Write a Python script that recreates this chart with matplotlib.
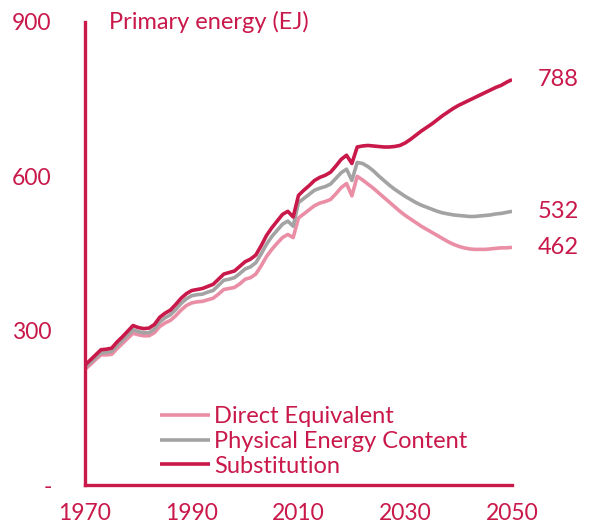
import matplotlib.pyplot as plt

# Primary energy by accounting method, EJ
years = list(range(1970, 2051))

substitution = [
    233, 243, 253, 263, 264, 266, 278, 288, 299, 310,
    306, 304, 305, 312, 326, 334, 340, 351, 363, 372,
    378, 380, 382, 386, 390, 400, 410, 413, 416, 425,
    434, 439, 447, 465, 485, 500, 513, 526, 532, 521,
    563, 573, 582, 592, 598, 602, 608, 620, 633, 641,
    625, 657, 659, 660, 659, 658, 657, 657, 658, 660,
    665, 672, 680, 688, 695, 702, 710, 718, 725, 732,
    738, 743, 748, 753, 758, 763, 768, 773, 777, 783,
    788,
]

physical = [
    228, 238, 248, 257, 258, 260, 271, 281, 291, 302,
    298, 296, 296, 303, 317, 325, 331, 341, 353, 362,
    368, 370, 371, 375, 378, 388, 398, 400, 403, 411,
    420, 424, 432, 449, 468, 483, 495, 507, 513, 503,
    549, 557, 565, 573, 577, 580, 585, 596, 607, 614,
    592, 627, 625, 619, 611, 601, 592, 583, 575, 568,
    561, 555, 549, 544, 540, 536, 532, 529, 527, 525,
    524, 523, 522, 522, 523, 524, 525, 527, 528, 530,
    532,
]

direct = [
    225, 234, 244, 253, 253, 254, 265, 275, 285, 295,
    292, 290, 290, 296, 308, 315, 320, 329, 340, 349,
    354, 356, 357, 360, 363, 371, 380, 382, 384, 391,
    400, 403, 410, 426, 444, 458, 470, 481, 487, 481,
    519, 527, 535, 543, 548, 551, 555, 566, 578, 586,
    562, 600, 593, 585, 577, 568, 559, 550, 541, 532,
    524, 517, 510, 503, 497, 491, 485, 479, 473, 468,
    464, 461, 459, 458, 458, 458, 459, 460, 461, 461,
    462,
]

x_ticks = [1970, 1990, 2010, 2030, 2050]
y_ticks = [0, 300, 600, 900]
y_tick_labels = ["-", "300", "600", "900"]

red = "#C9184A"
grey = "#A3A3A3"
pink = "#EA8EA6"

plt.rcParams["font.family"] = ["Lato", "DejaVu Sans"]

fig = plt.figure(figsize=(5.91, 5.27), dpi=100)
ax = fig.add_axes([85 / 591, 42 / 527, 427 / 591, 463 / 527])

ax.plot(years, direct, color=pink, lw=2.6, label="Direct Equivalent", solid_capstyle="butt")
ax.plot(years, physical, color=grey, lw=2.6, label="Physical Energy Content", solid_capstyle="butt")
ax.plot(years, substitution, color=red, lw=2.6, label="Substitution", solid_capstyle="butt")

ax.set_xlim(1970, 2050)
ax.set_ylim(0, 900)
ax.set_xticks(x_ticks)
ax.set_yticks(y_ticks)
ax.set_yticklabels(y_tick_labels)
ax.tick_params(axis="both", length=0, labelsize=16.5, labelcolor=red)
ax.tick_params(axis="y", pad=24)
ax.tick_params(axis="x", pad=13)

for side in ["top", "right"]:
    ax.spines[side].set_visible(False)
for side in ["left", "bottom"]:
    ax.spines[side].set_color(red)
    ax.spines[side].set_linewidth(2.4)

ax.text(24 / 427, 1.0, "Primary energy (EJ)", transform=ax.transAxes,
        color=red, fontsize=17, va="center", ha="left")

# end-of-line values
for series in [substitution, physical, direct]:
    ax.annotate(str(series[-1]), xy=(years[-1], series[-1]), xytext=(26, 0),
                textcoords="offset pixels", color=red, fontsize=17,
                va="center", ha="left", annotation_clip=False)

ax.legend(loc="upper left", bbox_to_anchor=(160 / 591, 1 - 406 / 527),
          bbox_transform=fig.transFigure, frameon=False, fontsize=17,
          labelcolor=red, handlelength=2.1, handletextpad=0.2,
          labelspacing=0.16, borderpad=0, borderaxespad=0)

fig.savefig("out.png", dpi=100)
